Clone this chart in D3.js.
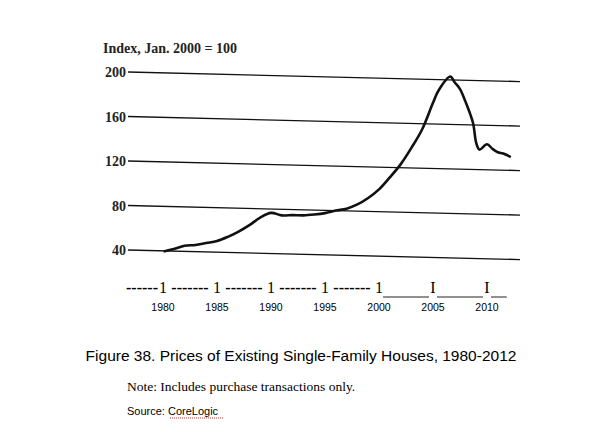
<!DOCTYPE html>
<html><head><meta charset="utf-8">
<script src="https://cdn.jsdelivr.net/npm/d3@7"></script>
<style>body{margin:0;background:#fff}</style>
</head><body>
<svg id="chart" width="600" height="441"></svg>
<script>
// values (index, Jan. 2000 = 100)
var years = [1980.05, 1981, 1982, 1983, 1984, 1985, 1986, 1987, 1988, 1989, 1990, 1991, 1992, 1993, 1994, 1995, 1996, 1997, 1998, 1999, 2000, 2001, 2002, 2003, 2004, 2005, 2005.5, 2006.6, 2007, 2007.5, 2008, 2008.7, 2009, 2009.3, 2010, 2010.5, 2011, 2011.5, 2012.2];
var values = [39.5, 42, 45, 46, 48, 50, 54, 59, 65, 72, 76.5, 74.5, 75, 75, 76, 77.5, 80, 82, 86, 92, 100, 111, 123, 138, 155, 179, 190, 203, 198, 192, 181, 162, 144, 138, 143, 139, 136, 135, 132];
var yTicks = [40, 80, 120, 160, 200];
var xTicks = [1980, 1985, 1990, 1995, 2000, 2005, 2010];

var svg = d3.select("#chart");
var x = d3.scaleLinear().domain([1980, 2010]).range([163, 487]);
var y = d3.scaleLinear().domain([40, 200]).range([250, 72]);

// the scanned page is slightly tilted: skew the plot body
var x0 = 128, slope = 0.0245;
var plot = svg.append("g")
  .attr("transform", "matrix(1," + slope + ",0,1,0," + (-slope * x0) + ")");

plot.selectAll(".grid").data(yTicks).enter().append("line")
  .attr("x1", 128).attr("x2", 520)
  .attr("y1", d => y(d)).attr("y2", d => y(d))
  .attr("stroke", "#111").attr("stroke-width", 1.4);

var line = d3.line().x((d, i) => x(years[i])).y(d => y(d)).curve(d3.curveCatmullRom.alpha(0.5));
plot.append("path").datum(values)
  .attr("d", line).attr("fill", "none")
  .attr("stroke", "#111").attr("stroke-width", 2.6).attr("stroke-linejoin", "round");

svg.selectAll(".ylab").data(yTicks).enter().append("text")
  .attr("x", 126).attr("y", d => y(d) + 5)
  .attr("text-anchor", "end")
  .attr("font-family", "Liberation Serif").attr("font-size", 14).attr("font-weight", "bold")
  .attr("fill", "#222").text(d => d);

svg.append("text").attr("x", 103).attr("y", 53)
  .attr("font-family", "Liberation Serif").attr("font-size", 14).attr("font-weight", "bold")
  .attr("fill", "#222").text("Index, Jan. 2000 = 100");

// tick row like the typed original
var tickY = 293;
xTicks.forEach(function(t, i) {
  svg.append("text").attr("x", x(t)).attr("y", tickY)
    .attr("text-anchor", "middle")
    .attr("font-family", "Liberation Serif").attr("font-size", 16)
    .text(t <= 2000 ? "1" : "I");
  svg.append("text").attr("x", x(t)).attr("y", 311)
    .attr("text-anchor", "middle")
    .attr("font-family", "Liberation Sans").attr("font-size", 10.5)
    .text(t);
});
svg.append("text").attr("x", x(1980) - 5).attr("y", tickY).attr("text-anchor", "end")
  .attr("font-family", "Liberation Serif").attr("font-size", 16).attr("font-weight", "bold").text("------");
xTicks.slice(0, 4).forEach(function(t) {
  svg.append("text").attr("x", (x(t) + x(t + 5)) / 2).attr("y", tickY).attr("text-anchor", "middle")
    .attr("font-family", "Liberation Serif").attr("font-size", 16).attr("font-weight", "bold").text("-------");
});
[[2000, 2005], [2005, 2010], [2010, 2012.2]].forEach(function(s) {
  svg.append("line").attr("x1", x(s[0]) + 4).attr("x2", x(s[1]) - 4)
    .attr("y1", tickY + 4).attr("y2", tickY + 4).attr("stroke", "#222").attr("stroke-width", 1);
});

svg.append("text").attr("x", 301).attr("y", 361).attr("text-anchor", "middle")
  .attr("font-family", "Liberation Sans").attr("font-size", 15.5)
  .text("Figure 38. Prices of Existing Single-Family Houses, 1980-2012");
svg.append("text").attr("x", 127).attr("y", 391)
  .attr("font-family", "Liberation Serif").attr("font-size", 13.5)
  .text("Note: Includes purchase transactions only.");
svg.append("text").attr("x", 127).attr("y", 415)
  .attr("font-family", "Liberation Sans").attr("font-size", 11)
  .text("Source: CoreLogic");
svg.append("line").attr("x1", 170).attr("x2", 223).attr("y1", 418).attr("y2", 418)
  .attr("stroke", "#d33").attr("stroke-width", 1).attr("stroke-dasharray", "1,1");
</script>
</body></html>
